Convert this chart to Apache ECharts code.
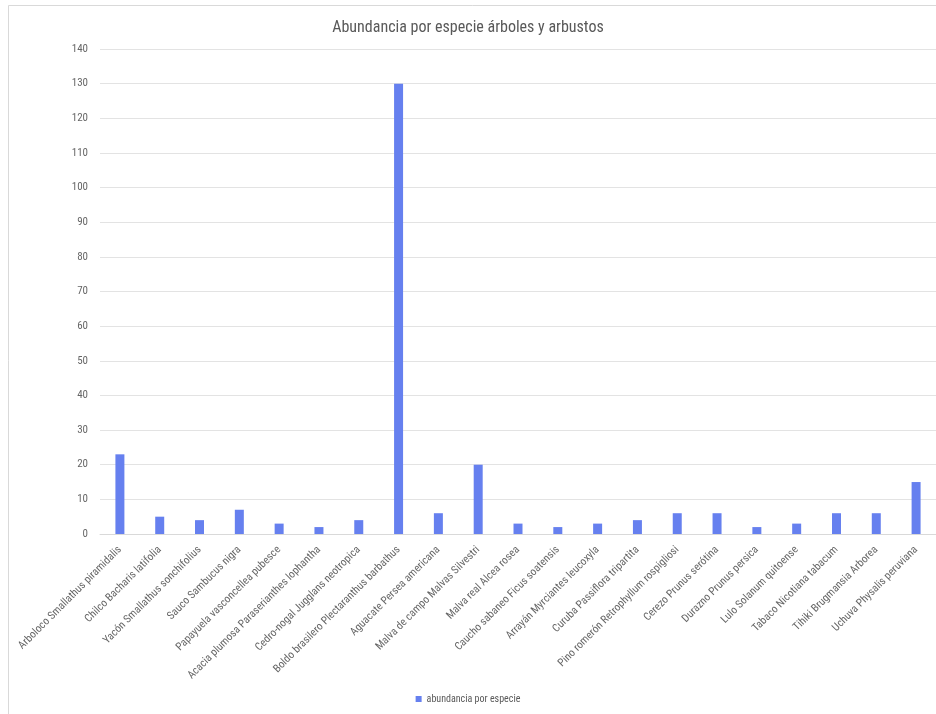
<!DOCTYPE html>
<html>
<head>
<meta charset="utf-8">
<script src="https://cdn.jsdelivr.net/npm/echarts@6/dist/echarts.min.js"></script>
<style>
  html, body { margin: 0; padding: 0; background: #fff; }
  #chart { width: 936px; height: 714px; }
</style>
</head>
<body>
<div id="chart"></div>
<script>
// Species names (common name + scientific name)
const species = [
  'Arboloco Smallathus piramidalis',
  'Chilco Bacharis latifolia',
  'Yacón Smallathus sonchifolius',
  'Sauco Sambucus nigra',
  'Papayuela vasconcellea pubesce',
  'Acacia plumosa Paraserianthes lophantha',
  'Cedro-nogal Jugglans neotropica',
  'Boldo brasilero Plectaranthus barbathus',
  'Aguacate Persea americana',
  'Malva de campo Malvas Silvestri',
  'Malva real Alcea rosea',
  'Caucho sabaneo Ficus soatensis',
  'Arrayán Myrciantes leucoxyla',
  'Curuba Passiflora tripartita',
  'Pino romerón Retrophyllum rospigliosi',
  'Cerezo Prunus serótina',
  'Durazno Prunus persica',
  'Lulo Solanum quitoense',
  'Tabaco Nicotiana tabacum',
  'Tihiki Brugmansia Arborea',
  'Uchuva Physalis peruviana'
];

// Individuals counted per species
const abundance = [23, 5, 4, 7, 3, 2, 4, 130, 6, 20, 3, 2, 3, 4, 6, 6, 2, 3, 6, 6, 15];

const seriesName = 'abundancia por especie';
const chartTitle = 'Abundancia por especie árboles y arbustos';

const FONT = "'Liberation Sans Narrow', 'Roboto Condensed', 'Liberation Sans', sans-serif";

const chart = echarts.init(document.getElementById('chart'), null, { renderer: 'canvas' });

chart.setOption({
  animation: false,
  backgroundColor: '#ffffff',
  textStyle: { fontFamily: FONT },
  graphic: [{
    type: 'rect',
    shape: { x: 8.5, y: 5.5, width: 940, height: 720 },
    style: { fill: 'none', stroke: '#d9d9d9', lineWidth: 1 },
    silent: true,
    z: -1
  }],
  title: {
    text: chartTitle,
    left: 'center',
    top: 15,
    textStyle: { fontFamily: FONT, fontSize: 16, fontWeight: 'normal', color: '#595959' }
  },
  legend: {
    bottom: 5,
    left: 'center',
    itemWidth: 6,
    itemHeight: 6,
    itemGap: 4,
    icon: 'rect',
    textStyle: { fontFamily: FONT, fontSize: 10, color: '#595959' },
    data: [seriesName]
  },
  grid: { left: 100, right: 0, top: 49, bottom: 180, containLabel: false },
  xAxis: {
    type: 'category',
    data: species,
    axisLine: { lineStyle: { color: '#d9d9d9' } },
    axisTick: { show: false },
    axisLabel: {
      interval: 0,
      rotate: 45,
      margin: 14,
      fontFamily: FONT,
      fontSize: 11,
      color: '#666666'
    }
  },
  yAxis: {
    type: 'value',
    min: 0,
    max: 140,
    interval: 10,
    axisLine: { show: false },
    axisTick: { show: false },
    axisLabel: { fontFamily: FONT, fontSize: 11, color: '#666666', margin: 12 },
    splitLine: { lineStyle: { color: '#e3e3e3' } }
  },
  series: [{
    name: seriesName,
    type: 'bar',
    data: abundance,
    barWidth: 9,
    itemStyle: { color: '#6680ef' }
  }]
});
</script>
</body>
</html>
